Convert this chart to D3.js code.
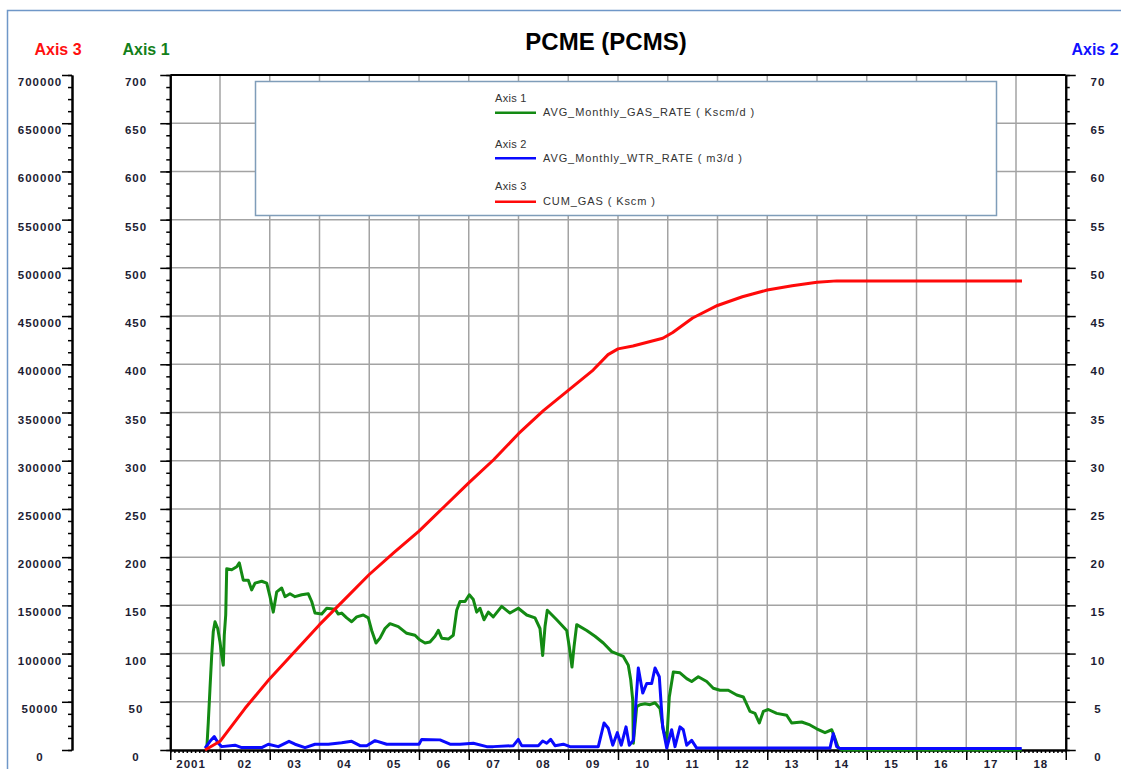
<!DOCTYPE html>
<html>
<head>
<meta charset="utf-8">
<script src="https://cdn.jsdelivr.net/npm/d3@7"></script>
<style>
  body { margin: 0; background: #fff; }
  svg { display: block; font-family: "Liberation Sans", Arial, sans-serif; }
</style>
</head>
<body>
<div id="chart"></div>
<script>
// ---- data (decimal year, value) ----
var gasRate = [ // AVG_Monthly_GAS_RATE (Kscm/d), axis 1
  [2001.733,0],[2001.765,29],[2001.799,64],[2001.833,98],[2001.865,123],[2001.900,133],
  [2001.954,126],[2002.000,112],[2002.034,98],[2002.066,88],[2002.086,119],[2002.115,140],
  [2002.135,188],[2002.235,187],[2002.336,190],[2002.388,194],[2002.468,176],[2002.569,176],
  [2002.637,166],[2002.704,173],[2002.838,175],[2002.939,173],[2003.005,159],[2003.071,143],
  [2003.140,164],[2003.240,168],[2003.307,159],[2003.407,162],[2003.508,159],[2003.642,161],
  [2003.775,162],[2003.843,154],[2003.910,142],[2004.044,141],[2004.145,147],[2004.312,146],
  [2004.378,141],[2004.446,142],[2004.547,137],[2004.647,133],[2004.748,138],[2004.880,140],
  [2004.981,137],[2005.049,124],[2005.136,111],[2005.216,116],[2005.317,126],[2005.417,131],
  [2005.584,128],[2005.753,121],[2005.920,119],[2006.020,114],[2006.121,111],[2006.221,112],
  [2006.322,118],[2006.388,124],[2006.456,116],[2006.589,115],[2006.689,119],[2006.758,145],
  [2006.824,154],[2006.925,154],[2007.011,161],[2007.092,156],[2007.160,143],[2007.226,147],
  [2007.307,135],[2007.393,143],[2007.493,138],[2007.662,149],[2007.829,142],[2007.996,147],
  [2008.165,140],[2008.332,137],[2008.432,126],[2008.486,98],[2008.533,128],[2008.579,145],
  [2008.768,135],[2008.969,124],[2009.021,107],[2009.075,86],[2009.116,107],[2009.170,130],
  [2009.371,124],[2009.538,118],[2009.705,111],[2009.873,102],[2010.107,97],[2010.207,88],
  [2010.255,73],[2010.296,52],[2010.308,7],[2010.376,45],[2010.442,47],[2010.543,48],
  [2010.643,47],[2010.744,49],[2010.844,43],[2010.911,21],[2010.979,9],[2011.031,55],
  [2011.112,81],[2011.246,80],[2011.381,74],[2011.481,71],[2011.614,76],[2011.783,71],
  [2011.915,64],[2012.050,62],[2012.217,62],[2012.386,57],[2012.519,55],[2012.653,40],
  [2012.754,38],[2012.840,28],[2012.921,40],[2013.021,42],[2013.190,38],[2013.391,36],
  [2013.491,28],[2013.692,29],[2013.859,26],[2013.994,22],[2014.161,18],[2014.296,21],
  [2014.362,12],[2014.428,2],[2014.500,0],[2018.115,0]
];

var waterRate = [ // AVG_Monthly_WTR_RATE (m3/d), axis 2
  [2001.699,0.2],[2001.799,0.9],[2001.885,1.4],[2001.966,0.7],[2002.034,0.35],[2002.302,0.5],
  [2002.436,0.25],[2002.838,0.25],[2002.971,0.6],[2003.172,0.35],[2003.387,0.9],[2003.508,0.6],
  [2003.709,0.25],[2003.910,0.6],[2004.177,0.6],[2004.446,0.75],[2004.647,0.9],[2004.814,0.45],
  [2004.949,0.45],[2005.116,0.97],[2005.351,0.6],[2005.753,0.6],[2006.000,0.6],[2006.054,1.1],
  [2006.422,1.05],[2006.623,0.6],[2006.824,0.6],[2007.092,0.7],[2007.361,0.35],[2007.493,0.35],
  [2007.896,0.45],[2007.996,1.1],[2008.064,0.45],[2008.398,0.45],[2008.486,0.93],[2008.567,0.7],
  [2008.647,1.1],[2008.734,0.45],[2008.901,0.6],[2009.035,0.35],[2009.604,0.35],[2009.719,2.8],
  [2009.805,2.25],[2009.894,0.5],[2009.986,1.8],[2010.066,0.5],[2010.161,2.4],[2010.227,0.5],
  [2010.308,1.0],[2010.408,8.5],[2010.497,5.9],[2010.577,6.9],[2010.677,6.9],[2010.744,8.5],
  [2010.830,7.6],[2010.898,2.4],[2010.979,0.2],[2011.079,2.1],[2011.146,0.35],[2011.246,2.4],
  [2011.312,2.1],[2011.381,0.5],[2011.481,1.0],[2011.582,0.2],[2014.261,0.2],[2014.327,1.7],
  [2014.396,0.35],[2014.462,0.15],[2018.115,0.15]
];

var cumGas = [ // CUM_GAS (Kscm), axis 3
  [2001.70,0],[2002.0,9000],[2002.5,43000],[2003.0,74000],[2003.5,102000],[2004.0,130000],
  [2004.5,156000],[2005.0,182000],[2005.5,205000],[2006.0,227000],[2006.5,252000],
  [2007.0,277000],[2007.5,301000],[2008.0,328000],[2008.5,352000],[2009.0,373000],
  [2009.5,394000],[2009.8,410000],[2010.0,416000],[2010.3,419000],[2010.9,427000],
  [2011.1,433000],[2011.5,448000],[2012.0,461000],[2012.5,470000],[2013.0,477000],
  [2013.5,481500],[2014.0,485000],[2014.4,486500],[2018.12,486500]
];

var years = d3.range(2001, 2019);
var yearLabels = ["2001","02","03","04","05","06","07","08","09","10","11","12","13","14","15","16","17","18"];
var legendItems = [
  { axis: "Axis 1", name: "AVG_Monthly_GAS_RATE ( Kscm/d )", color: "#138a13" },
  { axis: "Axis 2", name: "AVG_Monthly_WTR_RATE ( m3/d )", color: "#0a0aff" },
  { axis: "Axis 3", name: "CUM_GAS ( Kscm )", color: "#ff0a0a" }
];

// ---- layout ----
var W = 1121, H = 769;
var plot = { left: 170.25, right: 1065.75, top: 75, bottom: 750 };

var svg = d3.select("#chart").append("svg").attr("width", W).attr("height", H);

var x = d3.scaleLinear().domain([2001, 2019]).range([plot.left, plot.right]);
var y1 = d3.scaleLinear().domain([0, 700]).range([plot.bottom, plot.top]);
var y2 = d3.scaleLinear().domain([0, 70]).range([plot.bottom, plot.top]);
var y3 = d3.scaleLinear().domain([0, 700000]).range([plot.bottom, plot.top]);

// outer frame
svg.append("rect").attr("x", 7.5).attr("y", 10.5).attr("width", 1200).attr("height", 800)
  .attr("fill", "none").attr("stroke", "#6f97c8").attr("stroke-width", 1.5);

// grid
var grid = svg.append("g").attr("stroke", "#a3a3a3").attr("stroke-width", 1.5);
grid.selectAll(".h").data(d3.range(50, 700, 50)).enter().append("line")
  .attr("x1", plot.left).attr("x2", plot.right)
  .attr("y1", function (d) { return y1(d); }).attr("y2", function (d) { return y1(d); });
grid.selectAll(".v").data(d3.range(2002, 2019)).enter().append("line")
  .attr("y1", plot.top).attr("y2", plot.bottom)
  .attr("x1", function (d) { return x(d); }).attr("x2", function (d) { return x(d); });

// legend box
var lg = svg.append("g");
lg.append("rect").attr("x", 255.5).attr("y", 81.5).attr("width", 741).attr("height", 134)
  .attr("fill", "#fff").attr("stroke", "#7f9db9").attr("stroke-width", 1.5);
legendItems.forEach(function (d, i) {
  var base = [101.5, 147.5, 190][i];
  var ly = [112.7, 158.3, 201.7][i];
  lg.append("text").attr("x", 495).attr("y", base).text(d.axis)
    .attr("font-size", 11).attr("fill", "#333").attr("letter-spacing", 0.3);
  lg.append("line").attr("x1", 495).attr("x2", 536).attr("y1", ly).attr("y2", ly)
    .attr("stroke", d.color).attr("stroke-width", 2.5);
  lg.append("text").attr("x", 543).attr("y", ly + 3.5).text(d.name)
    .attr("font-size", 11).attr("fill", "#333").attr("letter-spacing", 0.9);
});

// axes helper
function styleAxis(g, w) {
  g.selectAll("path").attr("stroke", "#000").attr("stroke-width", w || 2);
  g.selectAll("line").attr("stroke", "#000").attr("stroke-width", 1.5);
}
function vAxis(scale, xpos, major, minor, orient) {
  var mk = orient === "left" ? d3.axisLeft : d3.axisRight;
  var g1 = svg.append("g").attr("transform", "translate(" + xpos + ",0)")
    .call(mk(scale).tickValues(minor).tickSize(4).tickFormat("").tickSizeOuter(0));
  styleAxis(g1);
  var g2 = svg.append("g").attr("transform", "translate(" + xpos + ",0)")
    .call(mk(scale).tickValues(major).tickSize(10).tickFormat("").tickSizeOuter(0));
  styleAxis(g2);
}
vAxis(y3, 72, d3.range(0, 700001, 50000), d3.range(0, 700001, 12500), "left");
vAxis(y1, plot.left, d3.range(0, 701, 50), d3.range(0, 701, 12.5), "left");
vAxis(y2, plot.right, d3.range(0, 71, 5), d3.range(0, 71, 1.25), "right");

// top frame line
svg.append("line").attr("x1", plot.left).attr("x2", plot.right)
  .attr("y1", plot.top).attr("y2", plot.top).attr("stroke", "#000").attr("stroke-width", 2);

// bottom axis
var gx1 = svg.append("g").attr("transform", "translate(0," + plot.bottom + ")")
  .call(d3.axisBottom(x).tickValues(d3.range(0, 18 * 12 + 1).map(function (i) { return 2001 + i / 12; }))
    .tickSize(3).tickFormat("").tickSizeOuter(0));
styleAxis(gx1);
var gx2 = svg.append("g").attr("transform", "translate(0," + plot.bottom + ")")
  .call(d3.axisBottom(x).tickValues(d3.range(2001, 2020)).tickSize(10).tickFormat("").tickSizeOuter(0));
styleAxis(gx2);

// tick labels
var lab = svg.append("g").attr("font-size", 11.5).attr("font-weight", "bold")
  .attr("fill", "#1d1d33").attr("letter-spacing", 1).attr("text-anchor", "middle");
d3.range(0, 700001, 50000).forEach(function (v) {
  lab.append("text").attr("x", 40).attr("y", y3(v) + 11).text(v);
});
d3.range(0, 701, 50).forEach(function (v) {
  lab.append("text").attr("x", 136).attr("y", y1(v) + 11).text(v);
});
d3.range(0, 71, 5).forEach(function (v) {
  lab.append("text").attr("x", 1098).attr("y", y2(v) + 11).text(v);
});
years.forEach(function (yr, i) {
  lab.append("text").attr("x", x(yr + 0.5) - (i === 0 ? 4 : 0)).attr("y", 768).text(yearLabels[i]);
});

// axis titles and title
svg.append("text").attr("x", 58).attr("y", 55).attr("text-anchor", "middle")
  .attr("font-size", 16).attr("font-weight", "bold").attr("fill", "#ff1010").text("Axis 3");
svg.append("text").attr("x", 146).attr("y", 55).attr("text-anchor", "middle")
  .attr("font-size", 16).attr("font-weight", "bold").attr("fill", "#13801a").text("Axis 1");
svg.append("text").attr("x", 1095).attr("y", 55).attr("text-anchor", "middle")
  .attr("font-size", 16).attr("font-weight", "bold").attr("fill", "#1010ff").text("Axis 2");
svg.append("text").attr("x", 606).attr("y", 50).attr("text-anchor", "middle")
  .attr("font-size", 24).attr("font-weight", "bold").attr("fill", "#000").text("PCME (PCMS)");

// series
function drawLine(data, scale, color) {
  svg.append("path").datum(data)
    .attr("fill", "none").attr("stroke", color).attr("stroke-width", 3)
    .attr("stroke-linejoin", "round")
    .attr("d", d3.line()
      .x(function (d) { return x(d[0]); })
      .y(function (d) { return scale(d[1]); }));
}
drawLine(gasRate, y1, legendItems[0].color);
drawLine(waterRate, y2, legendItems[1].color);
drawLine(cumGas, y3, legendItems[2].color);
</script>
</body>
</html>
